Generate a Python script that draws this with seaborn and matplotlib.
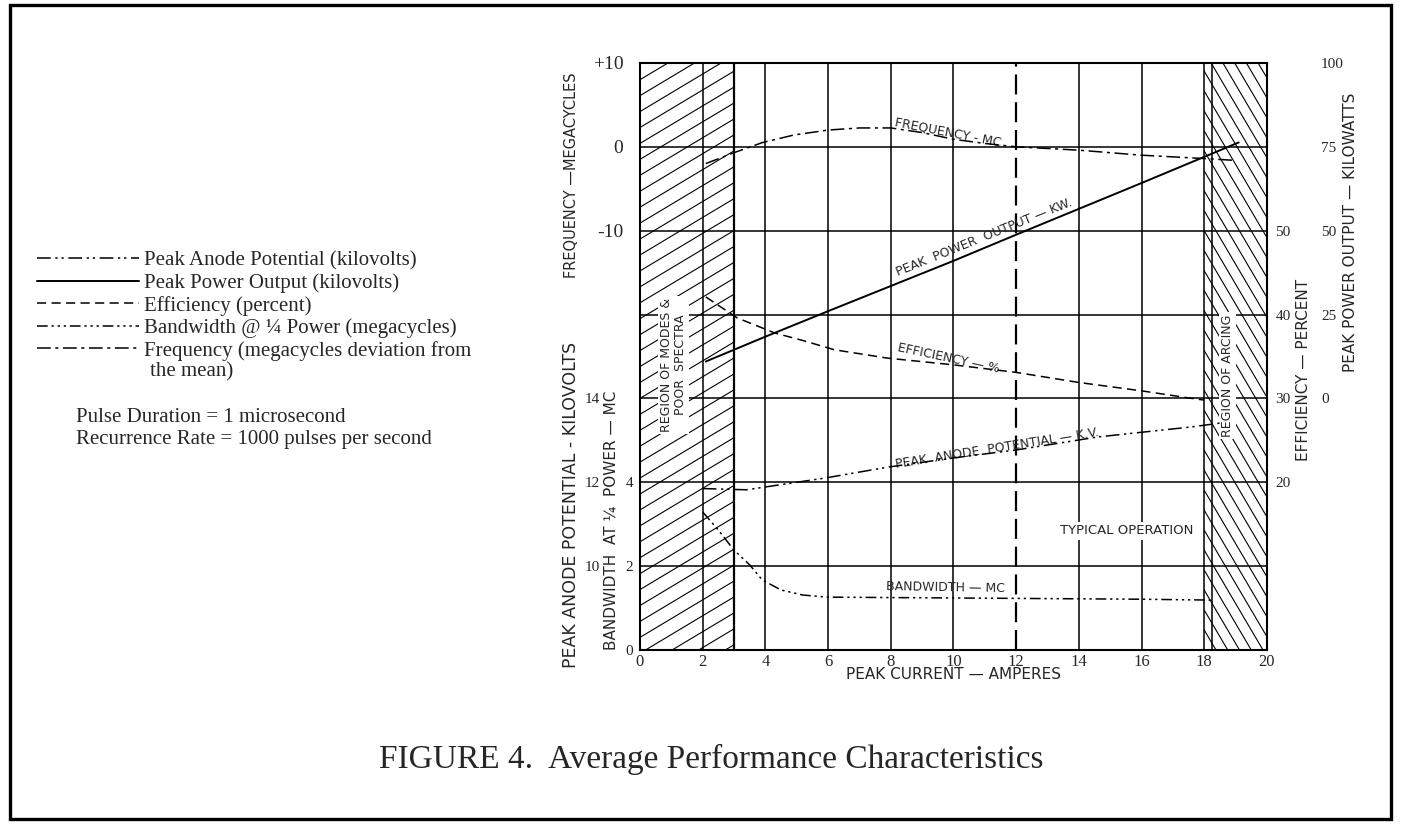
import numpy as np
import pandas as pd
import matplotlib
matplotlib.use("Agg")
import matplotlib.pyplot as plt
import seaborn as sns
from matplotlib.patches import Rectangle

################################################
#  data (x = peak current, amperes)
################################################
freq_x = [2.1, 3.0, 3.9, 4.9, 6.0, 7.0, 8.0, 9.0, 10.0, 11.0, 12.0, 14.0, 16.0, 18.0, 18.9]
freq_mc = [-2.0, -0.7, 0.5, 1.4, 2.0, 2.25, 2.25, 1.7, 0.9, 0.4, 0.0, -0.4, -1.0, -1.4, -1.6]

power_x = [2.1, 4.0, 6.0, 8.0, 10.0, 12.0, 14.0, 16.0, 18.0, 19.1]
power_kw = [11.0, 18.4, 26.0, 33.5, 41.0, 48.8, 56.5, 64.2, 72.0, 76.3]

eff_x = [2.1, 3.1, 4.3, 5.2, 6.2, 7.9, 10.0, 12.0, 14.0, 16.0, 17.6, 18.0]
eff_pct = [42.1, 39.6, 37.8, 36.9, 35.8, 34.8, 34.0, 33.1, 31.9, 30.9, 30.0, 29.8]

anode_x = [2.0, 3.4, 5.9, 7.9, 10.0, 12.0, 14.6, 17.6, 18.5]
anode_kv = [11.85, 11.82, 12.1, 12.36, 12.58, 12.77, 13.08, 13.32, 13.41]

bw_x = [2.0, 2.5, 3.0, 3.5, 3.9, 4.5, 5.2, 5.5, 6.0, 8.0, 10.0, 12.0, 14.0, 16.0, 18.2]
bw_mc = [3.29, 2.86, 2.38, 2.03, 1.67, 1.43, 1.31, 1.29, 1.26, 1.25, 1.24, 1.23, 1.22, 1.21, 1.19]

x_ticks = [0, 2, 4, 6, 8, 10, 12, 14, 16, 18, 20]
grid_x = [2, 3, 4, 6, 8, 10, 14, 16, 18, 18.25]
typical_x = 12

legend_labels = ["Peak Anode Potential (kilovolts)",
                 "Peak Power Output (kilovolts)",
                 "Efficiency (percent)",
                 "Bandwidth @ \u00bc Power (megacycles)",
                 "Frequency (megacycles deviation from"]

################################################
#  styles
################################################
sns.set_theme(style="white")
plt.rcParams['font.family'] = ['DejaVu Sans']
serif = ['Liberation Serif', 'DejaVu Serif']

ls_freq = (0, (9, 3, 2, 3))
ls_eff = (0, (6, 3.5))
ls_anode = (0, (9, 3, 1.5, 2.5, 1.5, 3))
ls_bw = (0, (7, 2.5, 1.5, 2.5, 1.5, 2.5, 1.5, 2.5))
lw = 1.1

fig = plt.figure(figsize=(14.01, 8.24), dpi=100)
ax = fig.add_axes([0.4568, 0.2112, 0.4475, 0.7124])
ax.set_xlim(0, 20)
ax.set_ylim(0, 7)
ax.set_facecolor("white")
for s in ax.spines.values():
    s.set_color("black")
    s.set_linewidth(1.5)

# grid
for y in range(1, 7):
    ax.axhline(y, color="black", lw=1.1, zorder=1)
for x in grid_x:
    ax.axvline(x, color="black", lw=1.1 if x != 3 else 1.6, zorder=1)
ax.axvline(typical_x, color="black", lw=1.6, ls=(0, (9, 3.5)), zorder=1)

# hatched regions
rect_l = Rectangle((0, 0), 3, 7, transform=ax.transData, fill=False, lw=0)
rect_r = Rectangle((18, 0), 2, 7, transform=ax.transData, fill=False, lw=0)
ax.add_patch(rect_l)
ax.add_patch(rect_r)
hx = np.array([0, 3])
for c in np.arange(-0.8, 7.2, 0.19):
    ln, = ax.plot(hx, c + 0.224 * hx, color="black", lw=0.8, zorder=1)
    ln.set_clip_path(rect_l)
hx = np.array([18, 20])
for c in np.arange(0, 8.5, 0.238):
    ln, = ax.plot(hx, c - 0.635 * (hx - 18), color="black", lw=0.8, zorder=1)
    ln.set_clip_path(rect_r)

ax.set_xticks(x_ticks)
ax.set_yticks([])
ax.tick_params(axis="x", length=0, pad=3, labelsize=12)
for t in ax.get_xticklabels():
    t.set_family(serif)


def side_axis(lo, hi, ticks, labels, side, pad, label, coords, size=11, lsize=11):
    a = ax.twinx()
    a.set_ylim(lo, hi)
    for s in a.spines.values():
        s.set_visible(False)
    if side == "left":
        a.yaxis.tick_left()
    else:
        a.yaxis.tick_right()
    a.yaxis.set_label_position(side)
    a.set_yticks(ticks)
    a.set_yticklabels(labels, family=serif, fontsize=size)
    a.tick_params(axis="y", length=0, pad=pad)
    a.set_ylabel(label, fontsize=lsize, va="center", ha="center", rotation=90)
    a.yaxis.set_label_coords(*coords)
    a.grid(False)
    return a


ax_f = side_axis(-60, 10, [-10, 0, 10], ["-10", "0", "+10"], "left", 12,
                 "FREQUENCY \u2014MEGACYCLES", (-0.110, 0.809), size=14, lsize=10.5)
ax_kv = side_axis(8, 22, [10, 12, 14], ["10", "12", "14"], "left", 29,
                  "PEAK ANODE POTENTIAL - KILOVOLTS", (-0.110, 0.247), lsize=12.5)
ax_bw = side_axis(0, 14, [0, 2, 4], ["0", "2", "4"], "left", 5,
                  "BANDWIDTH  AT \u00bc  POWER \u2014 MC", (-0.046, 0.221))
ax_e = side_axis(0, 70, [20, 30, 40, 50], ["20", "30", "40", "50"], "right", 6,
                 "EFFICIENCY \u2014 PERCENT", (1.059, 0.477))
ax_p = side_axis(-75, 100, [0, 25, 50, 75, 100], ["0", "25", "50", "75", "100"], "right", 39,
                 "PEAK POWER OUTPUT \u2014 KILOWATTS", (1.134, 0.712))

# curves
df_f = pd.DataFrame({"x": freq_x, "y": freq_mc})
df_p = pd.DataFrame({"x": power_x, "y": power_kw})
df_e = pd.DataFrame({"x": eff_x, "y": eff_pct})
df_a = pd.DataFrame({"x": anode_x, "y": anode_kv})
df_b = pd.DataFrame({"x": bw_x, "y": bw_mc})

sns.lineplot(data=df_a, x="x", y="y", ax=ax_kv, color="black", lw=lw, linestyle=ls_anode)
sns.lineplot(data=df_p, x="x", y="y", ax=ax_p, color="black", lw=1.4)
sns.lineplot(data=df_e, x="x", y="y", ax=ax_e, color="black", lw=lw, linestyle=ls_eff)
sns.lineplot(data=df_b, x="x", y="y", ax=ax_bw, color="black", lw=lw, linestyle=ls_bw)
sns.lineplot(data=df_f, x="x", y="y", ax=ax_f, color="black", lw=lw, linestyle=ls_freq)
for a in [ax_f, ax_kv, ax_bw, ax_e, ax_p]:
    a.set_xlabel("")
ax.set_xlabel("PEAK CURRENT \u2014 AMPERES", fontsize=11, labelpad=-2)
handles = [ax_kv.lines[-1], ax_p.lines[-1], ax_e.lines[-1], ax_bw.lines[-1], ax_f.lines[-1]]

# curve labels
lab = dict(fontsize=9, ha="center", va="center", rotation_mode="anchor")
ax.text(9.9, 6.17, "FREQUENCY - MC.", rotation=-11, **lab)
ax.text(10.98, 4.92, "PEAK  POWER  OUTPUT \u2014 KW.", rotation=22, **lab)
ax.text(9.85, 3.48, "EFFICIENCY \u2014 %", rotation=-12, **lab)
ax.text(11.4, 2.40, "PEAK  ANODE  POTENTIAL \u2014 K.V.", rotation=9, **lab)
ax.text(9.75, 0.74, "BANDWIDTH \u2014 MC", rotation=-1, **lab)

box = dict(facecolor="white", edgecolor="none", pad=1.5)
ax.text(1.07, 3.40, "REGION OF MODES &\nPOOR  SPECTRA", rotation=90, fontsize=9,
        ha="center", va="center", linespacing=1.1, bbox=box)
ax.text(18.74, 3.27, "REGION OF ARCING", rotation=90, fontsize=9,
        ha="center", va="center", bbox=box)
ax.text(17.64, 1.42, "TYPICAL OPERATION", fontsize=9.5, ha="right", va="center", bbox=box)

# legend on the left
fig.legend(handles, legend_labels, loc="upper left", bbox_to_anchor=(0.0264, 0.6955),
           frameon=False, prop={"family": serif, "size": 15}, handlelength=4.9,
           handletextpad=0.25, labelspacing=0.13, borderpad=0, borderaxespad=0)
fig.text(150 / 1401, 1 - 372 / 824, "the mean)", family=serif, fontsize=15, va="center")
fig.text(76 / 1401, 1 - 417 / 824, "Pulse Duration = 1 microsecond", family=serif,
         fontsize=15, va="center")
fig.text(76 / 1401, 1 - 439 / 824, "Recurrence Rate = 1000 pulses per second", family=serif,
         fontsize=15, va="center")

fig.text(0.508, 0.078, "FIGURE 4.  Average Performance Characteristics", family=serif,
         fontsize=24, ha="center", va="center")

fig.patches.append(Rectangle((10 / 1401, 5 / 824), 1381 / 1401, 814 / 824,
                             transform=fig.transFigure, fill=False, lw=2.4, ec="black"))

fig.savefig("out.png", dpi=100)
